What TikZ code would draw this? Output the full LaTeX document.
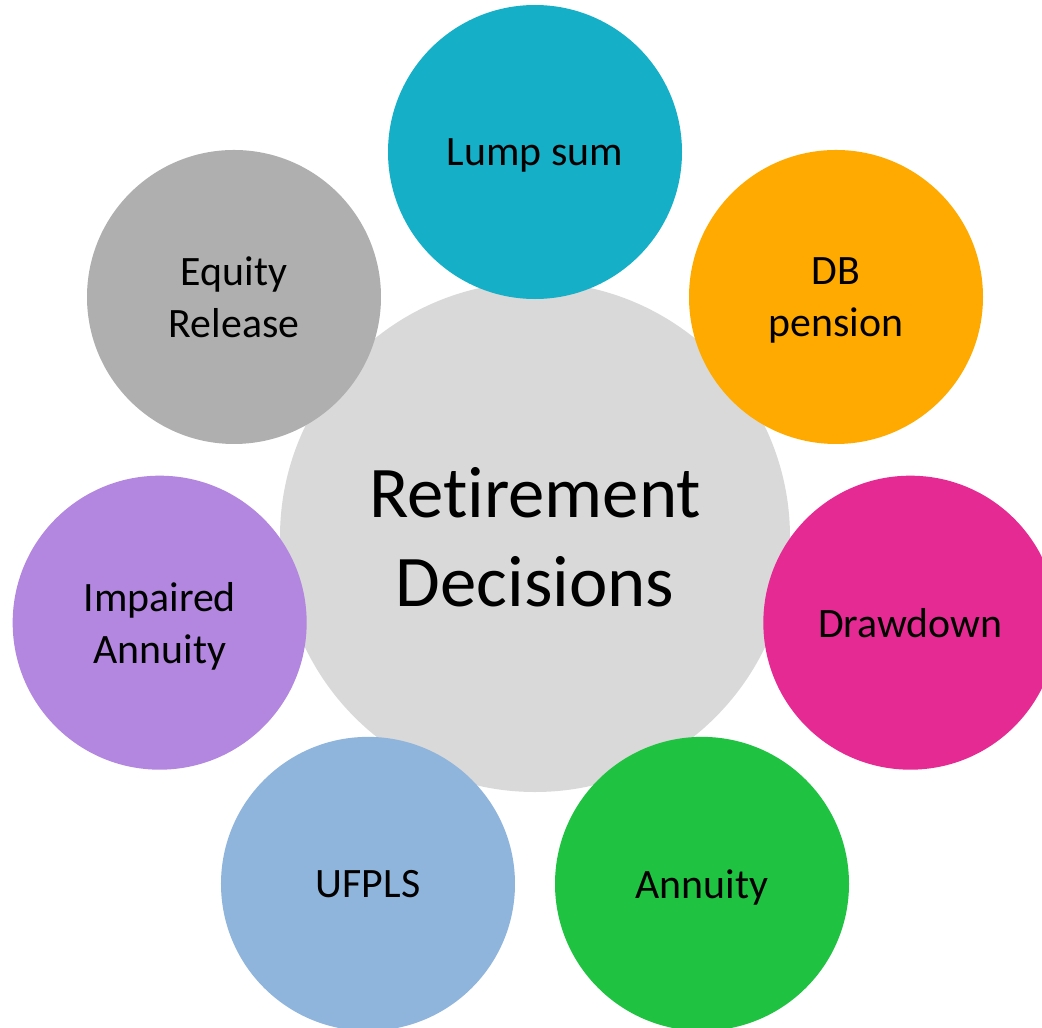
\documentclass[tikz,border=0pt]{standalone}
\usepackage{fontspec}
\setmainfont{Carlito}[RawFeature={-liga;-clig;-dlig}]

\definecolor{hubgray}{HTML}{D9D9D9}
\definecolor{lumpteal}{HTML}{15AFC7}
\definecolor{dborange}{HTML}{FFAA00}
\definecolor{drawpink}{HTML}{E62A93}
\definecolor{annugreen}{HTML}{20C241}
\definecolor{ufplsblue}{HTML}{8FB5DC}
\definecolor{impurple}{HTML}{B386E0}
\definecolor{equitygray}{HTML}{AFAFAF}

\tikzset{
    hub/.style={circle, fill=hubgray, minimum size=5.10cm, inner sep=0pt,
        text depth=0pt, align=center, font=\fontsize{20.7}{25.5}\selectfont},
    option/.style={circle, minimum size=2.94cm, inner sep=0pt,
        text depth=0pt, align=center, font=\fontsize{11.9}{14.8}\selectfont}
}

\begin{document}
\begin{tikzpicture}
    % Rahmen
    \def\orbit{3.85}
    \useasboundingbox (-5.35,-4.90) rectangle (5.07,5.37);
    \clip (-5.35,-4.90) rectangle (5.07,5.37);

    % Mittelkreis
    \node[hub] (hub) at (0,0) {Retirement\\Decisions};

    % Optionen rundherum
    \node[option, fill=lumpteal]   (lump)    at (90:\orbit)      {Lump sum};
    \node[option, fill=dborange]   (db)      at (38.57:\orbit)   {DB\\pension};
    \node[option, fill=drawpink]   (draw)    at (-12.86:\orbit)  {Drawdown};
    \node[option, fill=annugreen]  (annuity) at (-64.29:\orbit)  {Annuity};
    \node[option, fill=ufplsblue]  (ufpls)   at (-115.71:\orbit) {UFPLS};
    \node[option, fill=impurple]   (impair)  at (-167.14:\orbit) {Impaired\\Annuity};
    \node[option, fill=equitygray] (equity)  at (141.43:\orbit)  {Equity\\Release};
\end{tikzpicture}
\end{document}
